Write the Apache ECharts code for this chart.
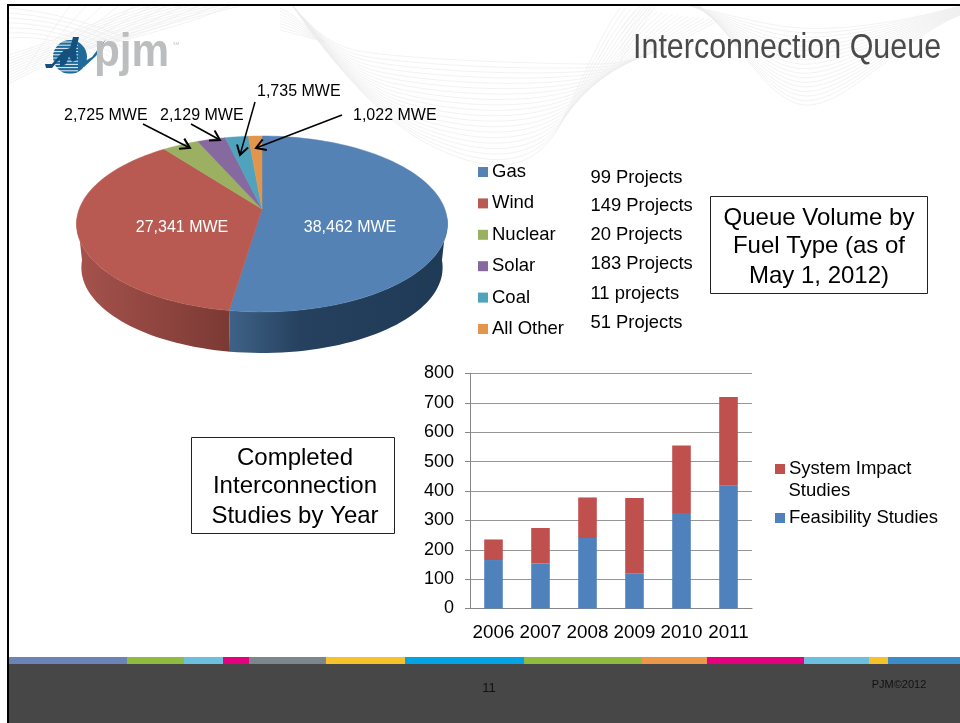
<!DOCTYPE html>
<html><head><meta charset="utf-8">
<style>html,body{margin:0;padding:0;background:#fff}#c{width:960px;height:723px}</style>
<script src="https://cdn.jsdelivr.net/npm/echarts@6/dist/echarts.min.js"></script>
</head><body><div id="c"></div>
<script>
const fuelNames = ['Gas','Wind','Nuclear','Solar','Coal','All Other'];
const fuelMwe = [38462,27341,2725,2129,1735,1022];
const fuelColors = ['#5482B4','#B85A52','#9BB061','#85699F','#4FA3BC','#E3954D'];
const projectLabels = ['99 Projects','149 Projects','20 Projects','183 Projects','11 projects','51 Projects'];
const years = ['2006','2007','2008','2009','2010','2011'];
const feasibility = [165,153,240,120,325,418];
const systemImpact = [70,121,138,256,230,302];
const F = '"Liberation Sans", Arial, sans-serif';

const chart = echarts.init(document.getElementById('c'), null, {renderer:'canvas'});
const total = fuelMwe.reduce((a,b)=>a+b,0);
const K = 0.17;
function proj(deg, cy, a, b){
  const t = deg*Math.PI/180, u = Math.sin(t), v = Math.cos(t), d = 1+K*v;
  return [262 + u*b/d, cy - v*a/d];
}
function arc(s, e, cy, a, b){
  const pts = [], n = Math.max(2, Math.ceil(Math.abs(e-s)/2));
  for(let i=0;i<=n;i++) pts.push(proj(s+(e-s)*i/n, cy, a, b));
  return pts;
}
const sideFills = {
  Gas:{type:'linear',x:230,y:0,x2:447,y2:0,global:true,colorStops:[{offset:0,color:'#3E6287'},{offset:.32,color:'#26415F'},{offset:1,color:'#1F3A55'}]},
  Wind:{type:'linear',x:78,y:0,x2:232,y2:0,global:true,colorStops:[{offset:0,color:'#A5524C'},{offset:1,color:'#7B3934'}]}
};
let acc = 0;
const pieSeries = fuelNames.map((name,i)=>{
  const s = acc/total*360; acc += fuelMwe[i]; const e = acc/total*360;
  return {
    type:'custom', name, coordinateSystem:'none', itemStyle:{color:fuelColors[i]},
    data:[fuelMwe[i]], silent:true, animation:false,
    renderItem(){
      const children = [];
      const vs = Math.max(s,95), ve = Math.min(e,265);
      if (ve > vs) {
        const top = arc(vs,ve,209,85.4,182.8), bot = arc(ve,vs,253,83,178);
        children.push({type:'polygon',shape:{points:top.concat(bot)},style:{fill:sideFills[name]||fuelColors[i]}});
      }
      const face = [[262,209]].concat(arc(s,e,209,85.4,182.8));
      children.push({type:'polygon',shape:{points:face},style:{fill:fuelColors[i],stroke:fuelColors[i],lineWidth:.5}});
      return {type:'group',children};
    }
  };
});

function lerpFamily(A,B,n,stroke,lw){
  const out=[];
  for(let k=0;k<n;k++){
    const t=k/(n-1);
    const p=A.map((c,i)=>c*(1-t)+B[i]*t);
    const pts=[[p[0],p[1]]];
    for(let i=2;i+5<p.length;i+=6){
      const x0=p[i-2],y0=p[i-1];
      for(let j=1;j<=24;j++){
        const q=j/24,r=1-q;
        pts.push([r*r*r*x0+3*r*r*q*p[i]+3*r*q*q*p[i+2]+q*q*q*p[i+4], r*r*r*y0+3*r*r*q*p[i+1]+3*r*q*q*p[i+3]+q*q*q*p[i+5]]);
      }
    }
    out.push({type:'polyline',silent:true,z:0,shape:{points:pts},style:{fill:null,stroke:stroke||'#ededed',lineWidth:lw||.7}});
  }
  return out;
}
const waves = [].concat(
  lerpFamily([293,6, 310,25, 330,48, 365,52, 420,60, 540,64, 600,64, 640,64, 670,45, 720,20],
             [293,6, 330,60, 380,120, 430,145, 480,170, 530,180, 560,125, 575,95, 600,35, 620,8],20),
  lerpFamily([690,6, 720,12, 760,25, 800,28, 840,30, 890,25, 960,6],
             [700,6, 740,40, 770,108, 810,105, 850,102, 900,40, 960,15],18),
  lerpFamily([9,55, 60,40, 110,15, 140,6],[9,84, 50,60, 120,35, 240,6],11),
  lerpFamily([9,8, 50,12, 90,22, 130,40],[9,38, 40,35, 80,45, 105,60],7),
  lerpFamily([70,6, 60,20, 45,40, 25,70],[230,6, 200,20, 130,40, 100,45],11),
  lerpFamily([280,8, 295,15, 310,30, 325,42],[280,30, 295,34, 310,38, 325,42],8),
  lerpFamily([620,62, 632,40, 645,22, 655,6],[620,30, 626,22, 633,14, 640,6],6)
);

const stripes = [[9,127,'#6C83B8'],[127,184,'#8FBC3F'],[184,223,'#6BC0E0'],[223,249,'#E6007E'],[249,326,'#7B878C'],[326,405,'#F7C12A'],[405,524,'#00A4E4'],[524,642,'#8FBC3F'],[642,707,'#EB9648'],[707,804,'#E6007E'],[804,869,'#6BC0E0'],[869,888,'#F7C12A'],[888,960,'#3A8DC8']];
function rect(x,y,w,h,fill,z){return {type:'rect',silent:true,z:z||1,shape:{x,y,width:w,height:h},style:{fill}};}
function txt(text,x,y,size,fill,align,extra){return Object.assign({type:'text',silent:true,z:5,style:{text,x,y,fill:fill||'#000',font:size+'px '+F,textAlign:align||'left',textVerticalAlign:'middle'}},extra||{});}
function box(x,y,w,h){return {type:'rect',silent:true,z:4,shape:{x,y,width:w,height:h},style:{fill:'#fff',stroke:'#222',lineWidth:1}};}
function arrow(x1,y1,x2,y2){
  const a=Math.atan2(y2-y1,x2-x1), L=11, w=.55;
  const p1=[x2-L*Math.cos(a-w),y2-L*Math.sin(a-w)], p2=[x2-L*Math.cos(a+w),y2-L*Math.sin(a+w)];
  return [
    {type:'line',silent:true,z:6,shape:{x1,y1,x2,y2},style:{stroke:'#000',lineWidth:1.5}},
    {type:'polyline',silent:true,z:6,shape:{points:[p1,[x2,y2],p2]},style:{stroke:'#000',lineWidth:2,fill:null}}
  ];
}
const logoStripes=[];
for(let y=42;y<75;y+=3.2) logoStripes.push({type:'line',silent:true,z:3,shape:{x1:50,y1:y,x2:78,y2:y},style:{stroke:'#fff',lineWidth:.9}});

const graphics = [].concat(
  waves,
  stripes.map(s=>rect(s[0],657,s[1]-s[0],7,s[2],2)),
  [rect(8,664,952,59,'#474747',2), rect(7,4,953,2,'#000',3), rect(7,4,2,719,'#000',3)],
  [
    {type:'circle',silent:true,z:2,shape:{cx:70,cy:57,r:17},style:{fill:'#1F6A9B'}}
  ],
  logoStripes,
  [
    {type:'polygon',silent:true,z:4,shape:{points:[[45,64],[46,68],[52,68],[57,62],[60,60],[60,67],[66,64],[69,56],[72,62],[77,60],[76,50],[79,37],[73,37],[70,48],[64,50],[58,57],[52,64]]},style:{fill:'#14507E'}},
    {type:'polygon',silent:true,z:4,shape:{points:[[80,64],[92,57],[106,39],[96,56],[84,67]]},style:{fill:'#1F6A9B'}},
    {type:'text',silent:true,z:5,x:94,y:53,scaleX:.9,style:{text:'pjm',x:0,y:0,fill:'#BBBDBF',font:'bold 47px '+F,textAlign:'left',textVerticalAlign:'middle'}},
    txt('SM',173,44,4,'#BBBDBF'),
    {type:'text',silent:true,z:5,x:633,y:48,scaleX:.87,style:{text:'Interconnection Queue',x:0,y:0,fill:'#4A4A4A',font:'35px '+F,textAlign:'left',textVerticalAlign:'middle'}},
    txt('38,462 MWE',350,228,16,'#fff','center',{z:8}),
    txt('27,341 MWE',182,228,16,'#fff','center',{z:8}),
    txt('2,725 MWE',64,116,16),
    txt('2,129 MWE',160,116,16),
    txt('1,735 MWE',257,92,16),
    txt('1,022 MWE',353,116,16)
  ],
  arrow(143,124,190,148), arrow(191,124,220,140), arrow(255,102,240,155), arrow(342,115,256,148),
  projectLabels.map((t,i)=>txt(t,590.5,[177.5,205.5,234.5,263.5,293.5,322.5][i],18.4)),
  [box(710.5,196.5,217,97),
   txt('Queue Volume by',819,218,24,'#000','center'),txt('Fuel Type (as of',819,246,24,'#000','center'),txt('May 1, 2012)',819,276,24,'#000','center'),
   box(191.5,437.5,203,96),
   txt('Completed',295,458,24,'#000','center'),txt('Interconnection',295,486,24,'#000','center'),txt('Studies by Year',295,516,24,'#000','center'),
   txt('Studies',788.5,491,18.5),
   txt('11',489,688,13,'#111','center'),
   txt('PJM\u00A92012',899,685,11,'#111','center')]
);

chart.setOption({
  animation:false,
  backgroundColor:'#fff',
  legend:[
    {data:fuelNames,orient:'vertical',left:478,top:162,padding:0,itemWidth:10,itemHeight:10,itemGap:11.4,icon:'rect',selectedMode:false,
     textStyle:{fontFamily:F,fontSize:18.5,color:'#000',padding:[0,0,0,-1],height:20,lineHeight:20}},
    {data:['System Impact Studies','Feasibility Studies'],orient:'vertical',left:775,top:458,padding:0,itemWidth:10,itemHeight:10,itemGap:27,icon:'rect',selectedMode:false,
     formatter:n=>n==='System Impact Studies'?'System Impact':n,
     textStyle:{fontFamily:F,fontSize:18.5,color:'#000',padding:[0,0,0,-1],height:22,lineHeight:22}}
  ],
  grid:{left:470,top:373.5,width:282,height:235,containLabel:false},
  xAxis:{type:'category',data:years,
    axisLine:{lineStyle:{color:'#868686',width:1}},
    axisTick:{length:6,lineStyle:{color:'#868686'},alignWithLabel:false},
    axisLabel:{fontFamily:F,fontSize:18.8,color:'#000',margin:15,interval:0}},
  yAxis:{type:'value',min:0,max:800,interval:100,
    axisLine:{show:true,lineStyle:{color:'#868686'}},
    axisTick:{show:true,length:5,lineStyle:{color:'#868686'}},
    splitLine:{lineStyle:{color:'#969696',width:1}},
    axisLabel:{fontFamily:F,fontSize:18,color:'#000',margin:16}},
  graphic:{elements:graphics},
  series:[
    {type:'bar',name:'Feasibility Studies',stack:'s',data:feasibility,barWidth:18.6,itemStyle:{color:'#4F81BD'}},
    {type:'bar',name:'System Impact Studies',stack:'s',data:systemImpact,barWidth:18.6,itemStyle:{color:'#C0504D'}}
  ].concat(pieSeries)
});
</script></body></html>
